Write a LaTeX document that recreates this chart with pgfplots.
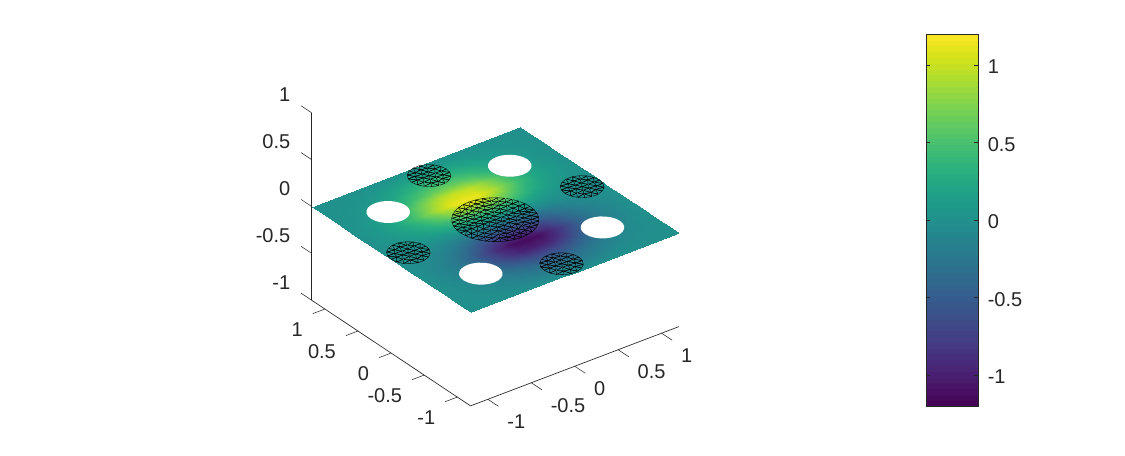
\documentclass[border=0pt]{standalone}
\usepackage{pgfplots}
\usepackage{pgfplotstable}
\usepackage{fontspec}
\setmainfont{Liberation Sans}
\pgfplotsset{compat=1.18}
\definecolor{axc}{HTML}{262626}

\pgfplotstableread{
x y c
0 0 0
.067 0 0
.033 .058 .16
-.033 .058 .16
-.067 0 0
-.033 -.058 -.16
.033 -.058 -.16
.133 0 0
.115 .067 .18
.067 .115 .31
0 .133 .37
-.067 .115 .31
-.115 .067 .18
-.133 0 0
-.115 -.067 -.18
-.067 -.115 -.31
0 -.133 -.37
.067 -.115 -.31
.115 -.067 -.18
.2 0 0
.188 .068 .17
.153 .129 .34
.1 .173 .47
.035 .197 .54
-.035 .197 .54
-.1 .173 .47
-.153 .129 .34
-.188 .068 .17
-.2 0 0
-.188 -.068 -.17
-.153 -.129 -.34
-.1 -.173 -.47
-.035 -.197 -.54
.035 -.197 -.54
.1 -.173 -.47
.153 -.129 -.34
.188 -.068 -.17
.267 0 0
.258 .069 .17
.231 .133 .33
.189 .189 .48
.133 .231 .61
.069 .258 .70
0 .267 .73
-.069 .258 .70
-.133 .231 .61
-.189 .189 .48
-.231 .133 .33
-.258 .069 .17
-.267 0 0
-.258 -.069 -.17
-.231 -.133 -.33
-.189 -.189 -.48
-.133 -.231 -.61
-.069 -.258 -.70
0 -.267 -.73
.069 -.258 -.70
.133 -.231 -.61
.189 -.189 -.48
.231 -.133 -.33
.258 -.069 -.17
.333 0 0
.326 .069 .15
.305 .136 .31
.270 .196 .46
.223 .248 .62
.167 .289 .75
.103 .317 .85
.035 .332 .91
-.035 .332 .91
-.103 .317 .85
-.167 .289 .75
-.223 .248 .62
-.270 .196 .46
-.305 .136 .31
-.326 .069 .15
-.333 0 0
-.326 -.069 -.15
-.305 -.136 -.31
-.270 -.196 -.46
-.223 -.248 -.62
-.167 -.289 -.75
-.103 -.317 -.85
-.035 -.332 -.91
.035 -.332 -.91
.103 -.317 -.85
.167 -.289 -.75
.223 -.248 -.62
.270 -.196 -.46
.305 -.136 -.31
.326 -.069 -.15
.4 0 0
.394 .069 .13
.376 .137 .28
.346 .2 .43
.306 .257 .58
.257 .306 .74
.2 .346 .88
.137 .376 1.0
.069 .394 1.07
0 .4 1.1
-.069 .394 1.07
-.137 .376 1.0
-.2 .346 .88
-.257 .306 .74
-.306 .257 .58
-.346 .2 .43
-.376 .137 .28
-.394 .069 .13
-.4 0 0
-.394 -.069 -.13
-.376 -.137 -.28
-.346 -.2 -.43
-.306 -.257 -.58
-.257 -.306 -.74
-.2 -.346 -.88
-.137 -.376 -1.0
-.069 -.394 -1.07
0 -.4 -1.1
.069 -.394 -1.07
.137 -.376 -1.0
.2 -.346 -.88
.257 -.306 -.74
.306 -.257 -.58
.346 -.2 -.43
.376 -.137 -.28
.394 -.069 -.13
}\bigdisk

\pgfplotstableread{
x y ca cb cc
0 0 .25 -.25 0
.067 0 .25 -.25 0
.033 .058 .18 -.32 .01
-.033 .058 .18 -.32 .01
-.067 0 .25 -.25 0
-.033 -.058 .32 -.18 -.01
.033 -.058 .32 -.18 -.01
.133 0 .25 -.25 0
.115 .067 .17 -.33 .01
.067 .115 .11 -.39 .02
0 .133 .09 -.41 .03
-.067 .115 .11 -.39 .02
-.115 .067 .17 -.33 .01
-.133 0 .25 -.25 0
-.115 -.067 .33 -.17 -.01
-.067 -.115 .39 -.11 -.02
0 -.133 .41 -.09 -.03
.067 -.115 .39 -.11 -.02
.115 -.067 .33 -.17 -.01
.2 0 .25 -.25 0
.188 .068 .17 -.33 .01
.153 .129 .10 -.40 .03
.1 .173 .04 -.46 .03
.035 .197 .01 -.49 .04
-.035 .197 .01 -.49 .04
-.1 .173 .04 -.46 .03
-.153 .129 .10 -.40 .03
-.188 .068 .17 -.33 .01
-.2 0 .25 -.25 0
-.188 -.068 .33 -.17 -.01
-.153 -.129 .40 -.10 -.03
-.1 -.173 .46 -.04 -.03
-.035 -.197 .49 -.01 -.04
.035 -.197 .49 -.01 -.04
.1 -.173 .46 -.04 -.03
.153 -.129 .40 -.10 -.03
.188 -.068 .33 -.17 -.01
}\smalldisk

\def\smalltri{0 1 2\\0 2 3\\0 3 4\\0 4 5\\0 5 6\\0 6 1\\
7 8 1\\8 9 2\\1 2 8\\9 10 2\\10 11 3\\2 3 10\\11 12 3\\12 13 4\\3 4 12\\13 14 4\\14 15 5\\4 5 14\\15 16 5\\16 17 6\\5 6 16\\17 18 6\\18 7 1\\6 1 18\\
19 20 7\\20 21 8\\21 22 9\\7 8 20\\8 9 21\\22 23 9\\23 24 10\\24 25 11\\9 10 23\\10 11 24\\25 26 11\\26 27 12\\27 28 13\\11 12 26\\12 13 27\\28 29 13\\29 30 14\\30 31 15\\13 14 29\\14 15 30\\31 32 15\\32 33 16\\33 34 17\\15 16 32\\16 17 33\\34 35 17\\35 36 18\\36 19 7\\17 18 35\\18 7 36\\}

\def\bigtri{0 1 2\\0 2 3\\0 3 4\\0 4 5\\0 5 6\\0 6 1\\
7 8 1\\8 9 2\\1 2 8\\9 10 2\\10 11 3\\2 3 10\\11 12 3\\12 13 4\\3 4 12\\13 14 4\\14 15 5\\4 5 14\\15 16 5\\16 17 6\\5 6 16\\17 18 6\\18 7 1\\6 1 18\\
19 20 7\\20 21 8\\21 22 9\\7 8 20\\8 9 21\\22 23 9\\23 24 10\\24 25 11\\9 10 23\\10 11 24\\25 26 11\\26 27 12\\27 28 13\\11 12 26\\12 13 27\\28 29 13\\29 30 14\\30 31 15\\13 14 29\\14 15 30\\31 32 15\\32 33 16\\33 34 17\\15 16 32\\16 17 33\\34 35 17\\35 36 18\\36 19 7\\17 18 35\\18 7 36\\
37 38 19\\38 39 20\\39 40 21\\40 41 22\\19 20 38\\20 21 39\\21 22 40\\41 42 22\\42 43 23\\43 44 24\\44 45 25\\22 23 42\\23 24 43\\24 25 44\\45 46 25\\46 47 26\\47 48 27\\48 49 28\\25 26 46\\26 27 47\\27 28 48\\49 50 28\\50 51 29\\51 52 30\\52 53 31\\28 29 50\\29 30 51\\30 31 52\\53 54 31\\54 55 32\\55 56 33\\56 57 34\\31 32 54\\32 33 55\\33 34 56\\57 58 34\\58 59 35\\59 60 36\\60 37 19\\34 35 58\\35 36 59\\36 19 60\\
61 62 37\\62 63 38\\63 64 39\\64 65 40\\65 66 41\\37 38 62\\38 39 63\\39 40 64\\40 41 65\\66 67 41\\67 68 42\\68 69 43\\69 70 44\\70 71 45\\41 42 67\\42 43 68\\43 44 69\\44 45 70\\71 72 45\\72 73 46\\73 74 47\\74 75 48\\75 76 49\\45 46 72\\46 47 73\\47 48 74\\48 49 75\\76 77 49\\77 78 50\\78 79 51\\79 80 52\\80 81 53\\49 50 77\\50 51 78\\51 52 79\\52 53 80\\81 82 53\\82 83 54\\83 84 55\\84 85 56\\85 86 57\\53 54 82\\54 55 83\\55 56 84\\56 57 85\\86 87 57\\87 88 58\\88 89 59\\89 90 60\\90 61 37\\57 58 87\\58 59 88\\59 60 89\\60 37 90\\
91 92 61\\92 93 62\\93 94 63\\94 95 64\\95 96 65\\96 97 66\\61 62 92\\62 63 93\\63 64 94\\64 65 95\\65 66 96\\97 98 66\\98 99 67\\99 100 68\\100 101 69\\101 102 70\\102 103 71\\66 67 98\\67 68 99\\68 69 100\\69 70 101\\70 71 102\\103 104 71\\104 105 72\\105 106 73\\106 107 74\\107 108 75\\108 109 76\\71 72 104\\72 73 105\\73 74 106\\74 75 107\\75 76 108\\109 110 76\\110 111 77\\111 112 78\\112 113 79\\113 114 80\\114 115 81\\76 77 110\\77 78 111\\78 79 112\\79 80 113\\80 81 114\\115 116 81\\116 117 82\\117 118 83\\118 119 84\\119 120 85\\120 121 86\\81 82 116\\82 83 117\\83 84 118\\84 85 119\\85 86 120\\121 122 86\\122 123 87\\123 124 88\\124 125 89\\125 126 90\\126 91 61\\86 87 122\\87 88 123\\88 89 124\\89 90 125\\90 61 126\\}

\pgfplotstableread{
x y z
.2 0 0
.193 .052 0
.173 .1 0
.141 .141 0
.1 .173 0
.052 .193 0
0 .2 0
-.052 .193 0
-.1 .173 0
-.141 .141 0
-.173 .1 0
-.193 .052 0
-.2 0 0
-.193 -.052 0
-.173 -.1 0
-.141 -.141 0
-.1 -.173 0
-.052 -.193 0
0 -.2 0
.052 -.193 0
.1 -.173 0
.141 -.141 0
.173 -.1 0
.193 -.052 0
.2 0 0
}\holeshape

\pgfplotstableread{
x y z c
-1.2 -1.2 0 0
-1.05 -1.2 0 0
-.9 -1.2 0 0
-.75 -1.2 0 0
-.6 -1.2 0 0
-.45 -1.2 0 0
-.3 -1.2 0 0
-.15 -1.2 0 0
0 -1.2 0 0
.15 -1.2 0 0
.3 -1.2 0 0
.45 -1.2 0 0
.6 -1.2 0 0
.75 -1.2 0 0
.9 -1.2 0 0
1.05 -1.2 0 0
1.2 -1.2 0 0
-1.2 -1.05 0 0
-1.05 -1.05 0 -.01
-.9 -1.05 0 -.02
-.75 -1.05 0 -.04
-.6 -1.05 0 -.07
-.45 -1.05 0 -.11
-.3 -1.05 0 -.15
-.15 -1.05 0 -.17
0 -1.05 0 -.18
.15 -1.05 0 -.17
.3 -1.05 0 -.15
.45 -1.05 0 -.11
.6 -1.05 0 -.07
.75 -1.05 0 -.04
.9 -1.05 0 -.02
1.05 -1.05 0 -.01
1.2 -1.05 0 0
-1.2 -.9 0 0
-1.05 -.9 0 -.02
-.9 -.9 0 -.05
-.75 -.9 0 -.08
-.6 -.9 0 -.14
-.45 -.9 0 -.23
-.3 -.9 0 -.31
-.15 -.9 0 -.37
0 -.9 0 -.38
.15 -.9 0 -.37
.3 -.9 0 -.31
.45 -.9 0 -.23
.6 -.9 0 -.14
.75 -.9 0 -.08
.9 -.9 0 -.05
1.05 -.9 0 -.02
1.2 -.9 0 0
-1.2 -.75 0 0
-1.05 -.75 0 -.03
-.9 -.75 0 -.08
-.75 -.75 0 -.14
-.6 -.75 0 -.25
-.45 -.75 0 -.39
-.3 -.75 0 -.53
-.15 -.75 0 -.63
0 -.75 0 -.65
.15 -.75 0 -.63
.3 -.75 0 -.53
.45 -.75 0 -.39
.6 -.75 0 -.25
.75 -.75 0 -.14
.9 -.75 0 -.08
1.05 -.75 0 -.03
1.2 -.75 0 0
-1.2 -.6 0 0
-1.05 -.6 0 -.05
-.9 -.6 0 -.12
-.75 -.6 0 -.22
-.6 -.6 0 -.38
-.45 -.6 0 -.60
-.3 -.6 0 -.82
-.15 -.6 0 -.97
0 -.6 0 -1.0
.15 -.6 0 -.97
.3 -.6 0 -.82
.45 -.6 0 -.60
.6 -.6 0 -.38
.75 -.6 0 -.22
.9 -.6 0 -.12
1.05 -.6 0 -.05
1.2 -.6 0 0
-1.2 -.45 0 0
-1.05 -.45 0 -.06
-.9 -.45 0 -.14
-.75 -.45 0 -.25
-.6 -.45 0 -.44
-.45 -.45 0 -.69
-.3 -.45 0 -.94
-.15 -.45 0 -1.12
0 -.45 0 -1.15
.15 -.45 0 -1.12
.3 -.45 0 -.94
.45 -.45 0 -.69
.6 -.45 0 -.44
.75 -.45 0 -.25
.9 -.45 0 -.14
1.05 -.45 0 -.06
1.2 -.45 0 0
-1.2 -.3 0 0
-1.05 -.3 0 -.04
-.9 -.3 0 -.10
-.75 -.3 0 -.19
-.6 -.3 0 -.32
-.45 -.3 0 -.51
-.3 -.3 0 -.70
-.15 -.3 0 -.82
0 -.3 0 -.85
.15 -.3 0 -.82
.3 -.3 0 -.70
.45 -.3 0 -.51
.6 -.3 0 -.32
.75 -.3 0 -.19
.9 -.3 0 -.10
1.05 -.3 0 -.04
1.2 -.3 0 0
-1.2 -.15 0 0
-1.05 -.15 0 -.02
-.9 -.15 0 -.05
-.75 -.15 0 -.10
-.6 -.15 0 -.17
-.45 -.15 0 -.27
-.3 -.15 0 -.37
-.15 -.15 0 -.44
0 -.15 0 -.45
.15 -.15 0 -.44
.3 -.15 0 -.37
.45 -.15 0 -.27
.6 -.15 0 -.17
.75 -.15 0 -.10
.9 -.15 0 -.05
1.05 -.15 0 -.02
1.2 -.15 0 0
-1.2 0 0 0
-1.05 0 0 0
-.9 0 0 0
-.75 0 0 0
-.6 0 0 0
-.45 0 0 0
-.3 0 0 0
-.15 0 0 0
0 0 0 0
.15 0 0 0
.3 0 0 0
.45 0 0 0
.6 0 0 0
.75 0 0 0
.9 0 0 0
1.05 0 0 0
1.2 0 0 0
-1.2 .15 0 0
-1.05 .15 0 .02
-.9 .15 0 .05
-.75 .15 0 .10
-.6 .15 0 .17
-.45 .15 0 .27
-.3 .15 0 .37
-.15 .15 0 .44
0 .15 0 .45
.15 .15 0 .44
.3 .15 0 .37
.45 .15 0 .27
.6 .15 0 .17
.75 .15 0 .10
.9 .15 0 .05
1.05 .15 0 .02
1.2 .15 0 0
-1.2 .3 0 0
-1.05 .3 0 .04
-.9 .3 0 .10
-.75 .3 0 .19
-.6 .3 0 .32
-.45 .3 0 .51
-.3 .3 0 .70
-.15 .3 0 .82
0 .3 0 .85
.15 .3 0 .82
.3 .3 0 .70
.45 .3 0 .51
.6 .3 0 .32
.75 .3 0 .19
.9 .3 0 .10
1.05 .3 0 .04
1.2 .3 0 0
-1.2 .45 0 0
-1.05 .45 0 .06
-.9 .45 0 .14
-.75 .45 0 .25
-.6 .45 0 .44
-.45 .45 0 .69
-.3 .45 0 .94
-.15 .45 0 1.12
0 .45 0 1.15
.15 .45 0 1.12
.3 .45 0 .94
.45 .45 0 .69
.6 .45 0 .44
.75 .45 0 .25
.9 .45 0 .14
1.05 .45 0 .06
1.2 .45 0 0
-1.2 .6 0 0
-1.05 .6 0 .05
-.9 .6 0 .12
-.75 .6 0 .22
-.6 .6 0 .38
-.45 .6 0 .60
-.3 .6 0 .82
-.15 .6 0 .97
0 .6 0 1.0
.15 .6 0 .97
.3 .6 0 .82
.45 .6 0 .60
.6 .6 0 .38
.75 .6 0 .22
.9 .6 0 .12
1.05 .6 0 .05
1.2 .6 0 0
-1.2 .75 0 0
-1.05 .75 0 .03
-.9 .75 0 .08
-.75 .75 0 .14
-.6 .75 0 .25
-.45 .75 0 .39
-.3 .75 0 .53
-.15 .75 0 .63
0 .75 0 .65
.15 .75 0 .63
.3 .75 0 .53
.45 .75 0 .39
.6 .75 0 .25
.75 .75 0 .14
.9 .75 0 .08
1.05 .75 0 .03
1.2 .75 0 0
-1.2 .9 0 0
-1.05 .9 0 .02
-.9 .9 0 .05
-.75 .9 0 .08
-.6 .9 0 .14
-.45 .9 0 .23
-.3 .9 0 .31
-.15 .9 0 .37
0 .9 0 .38
.15 .9 0 .37
.3 .9 0 .31
.45 .9 0 .23
.6 .9 0 .14
.75 .9 0 .08
.9 .9 0 .05
1.05 .9 0 .02
1.2 .9 0 0
-1.2 1.05 0 0
-1.05 1.05 0 .01
-.9 1.05 0 .02
-.75 1.05 0 .04
-.6 1.05 0 .07
-.45 1.05 0 .11
-.3 1.05 0 .15
-.15 1.05 0 .17
0 1.05 0 .18
.15 1.05 0 .17
.3 1.05 0 .15
.45 1.05 0 .11
.6 1.05 0 .07
.75 1.05 0 .04
.9 1.05 0 .02
1.05 1.05 0 .01
1.2 1.05 0 0
-1.2 1.2 0 0
-1.05 1.2 0 0
-.9 1.2 0 0
-.75 1.2 0 0
-.6 1.2 0 0
-.45 1.2 0 0
-.3 1.2 0 0
-.15 1.2 0 0
0 1.2 0 0
.15 1.2 0 0
.3 1.2 0 0
.45 1.2 0 0
.6 1.2 0 0
.75 1.2 0 0
.9 1.2 0 0
1.05 1.2 0 0
1.2 1.2 0 0
}\surfdata

\begin{document}
\begin{tikzpicture}
\path[use as bounding box] (0,0) rectangle (843.75pt,342pt);
\begin{axis}[
  table/row sep=crcr,
  at={(371.475pt,177.225pt)}, anchor=origin,
  disabledatascaling,
  x={(65.1375pt,24.78pt)}, y={(-49.65pt,33.03pt)}, z={(0pt,70.275pt)},
  xmin=-1.2, xmax=1.2, ymin=-1.2, ymax=1.2, zmin=-1, zmax=1,
  clip=false,
  axis x line=bottom, axis y line=left, axis z line=left,
  axis line style={-, color=axc, line width=0.5pt},
  tick style={draw=none},
  tick align=outside, major tick length=10pt,
  xtick={-1,-0.5,0,0.5,1}, ytick={-1,-0.5,0,0.5,1}, ztick={-1,-0.5,0,0.5,1},
  xticklabels={-1,-0.5,0,0.5,1}, yticklabels={-1,-0.5,0,0.5,1}, zticklabels={-1,-0.5,0,0.5,1},
  tick label style={font=\fontsize{15}{17}\selectfont, color=axc},
  xticklabel style={anchor=west, xshift=2.8pt, yshift=-11.25pt},
  yticklabel style={anchor=east, xshift=-3.75pt, yshift=-11.75pt},
  zticklabel style={anchor=east, xshift=-4.2pt, yshift=7.8pt},
  colormap/viridis, point meta min=-1.2, point meta max=1.2,
]
\addplot3[surf, shader=interp, mesh/rows=17, mesh/cols=17, point meta=\thisrow{c}] table[x=x,y=y,z=z] {\surfdata};
% holes
\addplot3[draw=none, fill=white] table[x expr=\thisrow{x}+0.7, y expr=\thisrow{y}+0.7, z=z] {\holeshape};
\addplot3[draw=none, fill=white] table[x expr=\thisrow{x}-0.7, y expr=\thisrow{y}+0.7, z=z] {\holeshape};
\addplot3[draw=none, fill=white] table[x expr=\thisrow{x}-0.7, y expr=\thisrow{y}-0.7, z=z] {\holeshape};
\addplot3[draw=none, fill=white] table[x expr=\thisrow{x}+0.7, y expr=\thisrow{y}-0.7, z=z] {\holeshape};
% meshed disks
\addplot3[patch, shader=faceted interp, faceted color=black, line width=0.3pt, patch table/.expand once=\smalltri, point meta=explicit]
  table[x=x, y expr=\thisrow{y}+1, z expr=0, meta=ca] {\smalldisk};
\addplot3[patch, shader=faceted interp, faceted color=black, line width=0.3pt, patch table/.expand once=\smalltri, point meta=explicit]
  table[x=x, y expr=\thisrow{y}-1, z expr=0, meta=cb] {\smalldisk};
\addplot3[patch, shader=faceted interp, faceted color=black, line width=0.3pt, patch table/.expand once=\smalltri, point meta=explicit]
  table[x expr=\thisrow{x}+1, y=y, z expr=0, meta=cc] {\smalldisk};
\addplot3[patch, shader=faceted interp, faceted color=black, line width=0.3pt, patch table/.expand once=\smalltri, point meta=explicit]
  table[x expr=\thisrow{x}-1, y=y, z expr=0, meta=cc] {\smalldisk};
\addplot3[patch, shader=faceted interp, faceted color=black, line width=0.3pt, patch table/.expand once=\bigtri, point meta=explicit]
  table[x=x, y=y, z expr=0, meta=c] {\bigdisk};
% tick marks, along the other axes as in the reference
\addplot3[color=axc, line width=0.4pt, no marks, unbounded coords=jump] coordinates {
(-1,-1.2,-1)(-1,-1.36,-1)(nan,nan,nan)
(-.5,-1.2,-1)(-.5,-1.36,-1)(nan,nan,nan)
(0,-1.2,-1)(0,-1.36,-1)(nan,nan,nan)
(.5,-1.2,-1)(.5,-1.36,-1)(nan,nan,nan)
(1,-1.2,-1)(1,-1.36,-1)(nan,nan,nan)
(-1.2,-1,-1)(-1.34,-1,-1)(nan,nan,nan)
(-1.2,-.5,-1)(-1.34,-.5,-1)(nan,nan,nan)
(-1.2,0,-1)(-1.34,0,-1)(nan,nan,nan)
(-1.2,.5,-1)(-1.34,.5,-1)(nan,nan,nan)
(-1.2,1,-1)(-1.34,1,-1)(nan,nan,nan)
(-1.2,1.2,-1)(-1.2,1.36,-1)(nan,nan,nan)
(-1.2,1.2,-.5)(-1.2,1.36,-.5)(nan,nan,nan)
(-1.2,1.2,0)(-1.2,1.36,0)(nan,nan,nan)
(-1.2,1.2,.5)(-1.2,1.36,.5)(nan,nan,nan)
(-1.2,1.2,1)(-1.2,1.36,1)
};
\end{axis}

\begin{axis}[
  at={(694.5pt,37.5pt)}, anchor=south west,
  scale only axis, width=39pt, height=279pt,
  xmin=0, xmax=1, ymin=-1.2, ymax=1.2,
  xtick=\empty,
  ytick={-1,-0.5,0,0.5,1}, yticklabels={-1,-0.5,0,0.5,1},
  yticklabel pos=right, ytick pos=both,
  tick align=inside, major tick length=2.8pt,
  axis on top,
  axis line style={color=axc, line width=0.5pt},
  tick style={color=axc, line width=0.4pt},
  tick label style={font=\fontsize{15}{17}\selectfont, color=axc},
  yticklabel style={xshift=3.8pt, yshift=-1.5pt},
  colormap/viridis, point meta min=-1.2, point meta max=1.2,
]
\addplot[surf, shader=flat, mesh/cols=2, point meta=y] table {
x y
0 -1.2
1 -1.2
0 -1.1625
1 -1.1625
0 -1.125
1 -1.125
0 -1.0875
1 -1.0875
0 -1.05
1 -1.05
0 -1.0125
1 -1.0125
0 -.975
1 -.975
0 -.9375
1 -.9375
0 -.9
1 -.9
0 -.8625
1 -.8625
0 -.825
1 -.825
0 -.7875
1 -.7875
0 -.75
1 -.75
0 -.7125
1 -.7125
0 -.675
1 -.675
0 -.6375
1 -.6375
0 -.6
1 -.6
0 -.5625
1 -.5625
0 -.525
1 -.525
0 -.4875
1 -.4875
0 -.45
1 -.45
0 -.4125
1 -.4125
0 -.375
1 -.375
0 -.3375
1 -.3375
0 -.3
1 -.3
0 -.2625
1 -.2625
0 -.225
1 -.225
0 -.1875
1 -.1875
0 -.15
1 -.15
0 -.1125
1 -.1125
0 -.075
1 -.075
0 -.0375
1 -.0375
0 0
1 0
0 .0375
1 .0375
0 .075
1 .075
0 .1125
1 .1125
0 .15
1 .15
0 .1875
1 .1875
0 .225
1 .225
0 .2625
1 .2625
0 .3
1 .3
0 .3375
1 .3375
0 .375
1 .375
0 .4125
1 .4125
0 .45
1 .45
0 .4875
1 .4875
0 .525
1 .525
0 .5625
1 .5625
0 .6
1 .6
0 .6375
1 .6375
0 .675
1 .675
0 .7125
1 .7125
0 .75
1 .75
0 .7875
1 .7875
0 .825
1 .825
0 .8625
1 .8625
0 .9
1 .9
0 .9375
1 .9375
0 .975
1 .975
0 1.0125
1 1.0125
0 1.05
1 1.05
0 1.0875
1 1.0875
0 1.125
1 1.125
0 1.1625
1 1.1625
0 1.2
1 1.2
};
\end{axis}
\end{tikzpicture}
\end{document}
